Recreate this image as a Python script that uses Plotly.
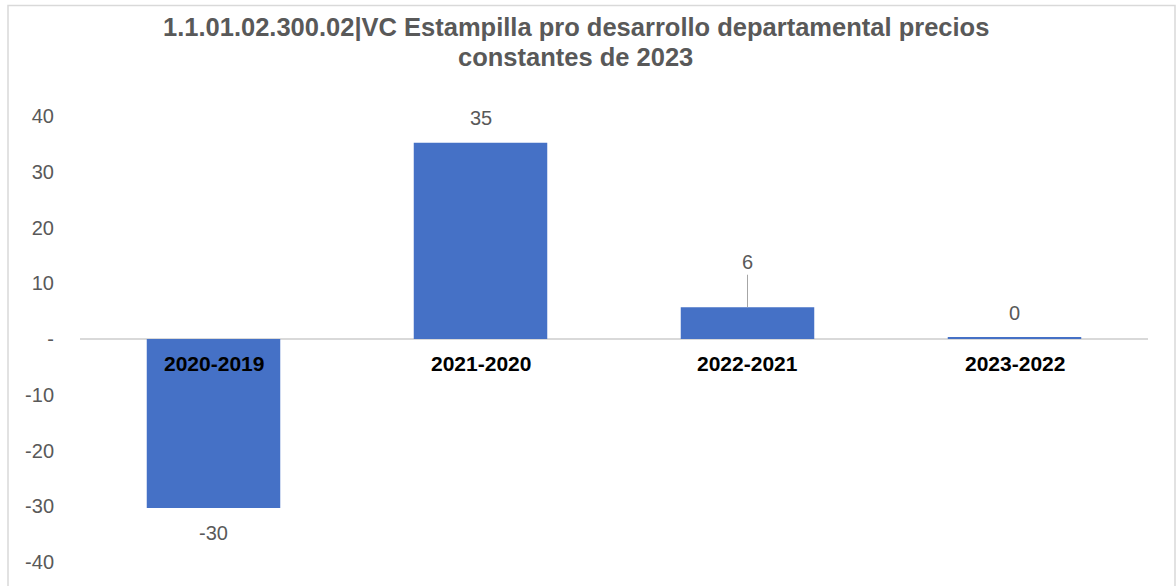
import plotly.graph_objects as go

categories = ["2020-2019", "2021-2020", "2022-2021", "2023-2022"]
values = [-30.3, 35.2, 5.7, 0.2]
tick_vals = [-40, -30, -20, -10, 0, 10, 20, 30, 40]
tick_text = ["-40", "-30", "-20", "-10", "-", "10", "20", "30", "40"]
title_lines = ["1.1.01.02.300.02|VC Estampilla pro desarrollo departamental precios",
               "constantes de 2023"]

FONT = "Liberation Sans, Arial, sans-serif"
GRAY = "#595959"

fig = go.Figure()
fig.add_trace(go.Bar(
    x=categories, y=values, width=0.5,
    marker=dict(color="#4571C6", line=dict(width=0)),
    hoverinfo="skip",
))

annotations = []
for c, v in zip(categories, values):
    label = f"{round(v):.0f}"
    if 1 < v < 10:
        annotations.append(dict(
            x=c, y=v, xref="x", yref="y", text=label, showarrow=True,
            arrowhead=0, arrowwidth=1, arrowcolor="#a6a6a6", ax=0, ay=-45,
            font=dict(family=FONT, size=20, color=GRAY),
        ))
    else:
        annotations.append(dict(
            x=c, y=v, xref="x", yref="y", text=label, showarrow=False,
            yshift=25 if v >= 0 else -25,
            font=dict(family=FONT, size=20, color=GRAY),
        ))
    annotations.append(dict(
        x=c, y=0, xref="x", yref="y", text=f"<b>{c}</b>", showarrow=False,
        yshift=-24, font=dict(family=FONT, size=21, color="#000000"),
    ))

# title lines (centres at 27px and 57px from the top)
for line, ypx in zip(title_lines, [27, 57]):
    annotations.append(dict(
        x=0.4644, xref="paper", xanchor="center",
        y=(562 - ypx) / 446, yref="paper", yanchor="middle",
        text=f"<b>{line}</b>", showarrow=False,
        font=dict(family=FONT, size=25.5, color=GRAY),
    ))

fig.update_layout(
    width=1176, height=586,
    margin=dict(l=80, r=28, t=116, b=24),
    paper_bgcolor="white", plot_bgcolor="white",
    showlegend=False,
    xaxis=dict(visible=False, range=[-0.5, 3.5]),
    yaxis=dict(
        range=[-40, 40], tickvals=tick_vals, ticktext=tick_text,
        showgrid=False, zeroline=True, zerolinecolor="#d9d9d9", zerolinewidth=2,
        showline=False, ticks="", ticklabelstandoff=25,
        tickfont=dict(family=FONT, size=20, color=GRAY),
    ),
    annotations=annotations,
    shapes=[dict(
        type="rect", xref="paper", yref="paper",
        x0=(8 - 80) / 1068, x1=(1175 - 80) / 1068,
        y0=-0.2, y1=(562 - 5.5) / 446,
        line=dict(color="#d9d9d9", width=1.5), layer="below",
    )],
)

fig.write_html("out.html")
